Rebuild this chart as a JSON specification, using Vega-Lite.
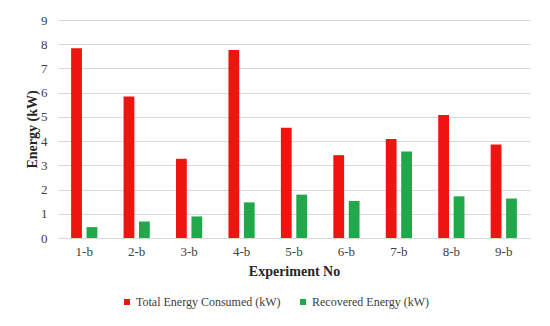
{
  "$schema": "https://vega.github.io/schema/vega-lite/v6.json",
  "width": 472,
  "height": 218,
  "autosize": {"type": "none"},
  "padding": {"left": 58, "top": 20, "right": 20, "bottom": 88},
  "background": "white",
  "config": {
    "view": {"stroke": null},
    "font": "Liberation Serif, Times New Roman, serif",
    "axis": {"labelFont": "Liberation Serif, Times New Roman, serif", "titleFont": "Liberation Serif, Times New Roman, serif", "labelColor": "#404040", "titleColor": "#262626"},
    "legend": {"labelFont": "Liberation Serif, Times New Roman, serif"}
  },
  "data": {
    "values": [
      {"exp": "1-b", "series": "Total Energy Consumed (kW)", "value": 7.83},
      {"exp": "1-b", "series": "Recovered Energy (kW)", "value": 0.45},
      {"exp": "2-b", "series": "Total Energy Consumed (kW)", "value": 5.84},
      {"exp": "2-b", "series": "Recovered Energy (kW)", "value": 0.68},
      {"exp": "3-b", "series": "Total Energy Consumed (kW)", "value": 3.27},
      {"exp": "3-b", "series": "Recovered Energy (kW)", "value": 0.89},
      {"exp": "4-b", "series": "Total Energy Consumed (kW)", "value": 7.76},
      {"exp": "4-b", "series": "Recovered Energy (kW)", "value": 1.47},
      {"exp": "5-b", "series": "Total Energy Consumed (kW)", "value": 4.55},
      {"exp": "5-b", "series": "Recovered Energy (kW)", "value": 1.79},
      {"exp": "6-b", "series": "Total Energy Consumed (kW)", "value": 3.42},
      {"exp": "6-b", "series": "Recovered Energy (kW)", "value": 1.53},
      {"exp": "7-b", "series": "Total Energy Consumed (kW)", "value": 4.09},
      {"exp": "7-b", "series": "Recovered Energy (kW)", "value": 3.57},
      {"exp": "8-b", "series": "Total Energy Consumed (kW)", "value": 5.08},
      {"exp": "8-b", "series": "Recovered Energy (kW)", "value": 1.72},
      {"exp": "9-b", "series": "Total Energy Consumed (kW)", "value": 3.86},
      {"exp": "9-b", "series": "Recovered Energy (kW)", "value": 1.63}
    ]
  },
  "mark": {"type": "bar"},
  "encoding": {
    "x": {
      "field": "exp", "type": "nominal",
      "scale": {"paddingInner": 0.5, "paddingOuter": 0.25},
      "axis": {"title": "Experiment No", "titleFontSize": 14, "titleFontWeight": "bold", "labelFontSize": 13, "labelAngle": 0, "ticks": false, "domainColor": "#d9d9d9", "labelPadding": 7, "titlePadding": 6}
    },
    "xOffset": {
      "field": "series", "type": "nominal",
      "sort": ["Total Energy Consumed (kW)", "Recovered Energy (kW)"],
      "scale": {"paddingInner": 0.3}
    },
    "y": {
      "field": "value", "type": "quantitative",
      "scale": {"domain": [0, 9], "nice": false},
      "axis": {"title": "Energy (kW)", "titleFontSize": 14, "titleFontWeight": "bold", "labelFontSize": 13, "values": [0,1,2,3,4,5,6,7,8,9], "labelOverlap": false, "ticks": false, "domain": false, "gridColor": "#d9d9d9", "labelPadding": 11, "titlePadding": 1}
    },
    "color": {
      "field": "series", "type": "nominal",
      "sort": ["Total Energy Consumed (kW)", "Recovered Energy (kW)"],
      "scale": {"domain": ["Total Energy Consumed (kW)", "Recovered Energy (kW)"], "range": ["#ee1510", "#21a84b"]},
      "legend": {"title": null, "orient": "none", "legendX": 63, "legendY": 276, "direction": "horizontal", "symbolType": "square", "symbolSize": 36, "labelFontSize": 12, "labelOffset": 3, "labelColor": "#404040", "columnPadding": 16, "symbolStrokeWidth": 0}
    }
  }
}
